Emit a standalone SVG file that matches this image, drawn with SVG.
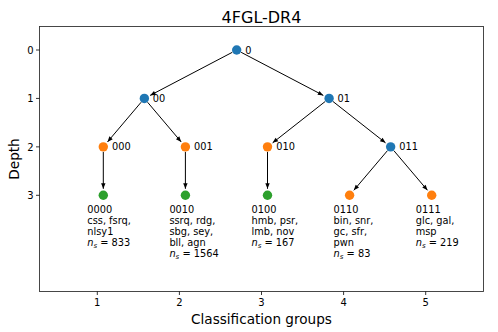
<svg xmlns="http://www.w3.org/2000/svg" width="498" height="332" viewBox="0 0 498 332">
<style>
text{font-family:"DejaVu Sans","Liberation Sans",sans-serif;fill:#000}
.tick{font-size:10px}
.lbl{font-size:9.8px}
.leaf{font-size:9.8px}
.ax{font-size:13.6px}
.ttl{font-size:16px}
.edge{stroke:#000;stroke-width:1;fill:none;marker-end:url(#ah)}
.b{fill:#1f77b4}.o{fill:#ff7f0e}.g{fill:#2ca02c}
.tk{stroke:#000;stroke-width:0.8}
</style>
<defs>
<marker id="ah" viewBox="-6 -3 6 6" refX="0" refY="0" markerWidth="6" markerHeight="6" markerUnits="userSpaceOnUse" orient="auto">
<path d="M0,0 L-5.5,-2.2 L-5.5,2.2 Z" fill="#000"/>
</marker>
</defs>
<rect width="498" height="332" fill="#fff"/>
<g id="axes">
<rect x="39.5" y="26.5" width="444" height="265" fill="none" stroke="#333" stroke-width="0.9"/>
<g class="tk">
<line x1="36" y1="50" x2="39.5" y2="50"/>
<line x1="36" y1="98.43" x2="39.5" y2="98.43"/>
<line x1="36" y1="146.87" x2="39.5" y2="146.87"/>
<line x1="36" y1="195.3" x2="39.5" y2="195.3"/>
<line x1="97.3" y1="291.5" x2="97.3" y2="295"/>
<line x1="179.4" y1="291.5" x2="179.4" y2="295"/>
<line x1="261.5" y1="291.5" x2="261.5" y2="295"/>
<line x1="343.6" y1="291.5" x2="343.6" y2="295"/>
<line x1="425.7" y1="291.5" x2="425.7" y2="295"/>
</g>
<g class="tick" text-anchor="end">
<text x="33.5" y="53.6">0</text>
<text x="33.5" y="102">1</text>
<text x="33.5" y="150.5">2</text>
<text x="33.5" y="198.9">3</text>
</g>
<g class="tick" text-anchor="middle">
<text x="97.3" y="306">1</text>
<text x="179.4" y="306">2</text>
<text x="261.5" y="306">3</text>
<text x="343.6" y="306">4</text>
<text x="425.7" y="306">5</text>
</g>
<text class="ax" x="261.5" y="324" text-anchor="middle">Classification groups</text>
<text class="ax" transform="translate(18.5,159) rotate(-90)" text-anchor="middle">Depth</text>
<text class="ttl" x="261.5" y="22.5" text-anchor="middle">4FGL-DR4</text>
</g>
<g id="connectors">
<line class="edge" x1="232.27" y1="52.32" x2="150.11" y2="95.41"/>
<line class="edge" x1="241.13" y1="52.32" x2="323.34" y2="95.41"/>
<line class="edge" x1="141.12" y1="102.24" x2="107.5" y2="141.91"/>
<line class="edge" x1="147.58" y1="102.24" x2="181.2" y2="141.91"/>
<line class="edge" x1="325.17" y1="101.52" x2="272.61" y2="142.85"/>
<line class="edge" x1="333.03" y1="101.52" x2="385.54" y2="142.85"/>
<line class="edge" x1="387.42" y1="150.68" x2="353.8" y2="190.34"/>
<line class="edge" x1="393.88" y1="150.68" x2="427.5" y2="190.34"/>
<line class="edge" x1="103.3" y1="151.87" x2="103.3" y2="188.8"/>
<line class="edge" x1="185.4" y1="151.87" x2="185.4" y2="188.8"/>
<line class="edge" x1="267.5" y1="151.87" x2="267.5" y2="188.8"/>
</g>
<g id="n0"><circle class="b" cx="236.7" cy="50" r="4.7"/><text class="lbl" x="245.2" y="53.5">0</text></g>
<g id="n00"><circle class="b" cx="144.35" cy="98.43" r="4.7"/><text class="lbl" x="152.8" y="101.9">00</text></g>
<g id="n01"><circle class="b" cx="329.1" cy="98.43" r="4.7"/><text class="lbl" x="337.6" y="101.9">01</text></g>
<g id="n000"><circle class="o" cx="103.3" cy="146.87" r="4.7"/><text class="lbl" x="112" y="150.4">000</text></g>
<g id="n001"><circle class="o" cx="185.4" cy="146.87" r="4.7"/><text class="lbl" x="194.1" y="150.4">001</text></g>
<g id="n010"><circle class="o" cx="267.5" cy="146.87" r="4.7"/><text class="lbl" x="276.2" y="150.4">010</text></g>
<g id="n011"><circle class="b" cx="390.65" cy="146.87" r="4.7"/><text class="lbl" x="399.3" y="150.4">011</text></g>
<g id="n0000"><circle class="g" cx="103.3" cy="195.3" r="4.7"/>
<text class="leaf" x="87.3" y="213"><tspan x="87.3">0000</tspan><tspan x="87.3" dy="11">css, fsrq,</tspan><tspan x="87.3" dy="11">nlsy1</tspan><tspan x="87.3" dy="11" font-style="italic">n</tspan><tspan font-style="italic" font-size="7" dy="1.8">s</tspan><tspan dy="-1.8"> = 833</tspan></text></g>
<g id="n0010"><circle class="g" cx="185.4" cy="195.3" r="4.7"/>
<text class="leaf" x="169.4" y="213"><tspan x="169.4">0010</tspan><tspan x="169.4" dy="11">ssrq, rdg,</tspan><tspan x="169.4" dy="11">sbg, sey,</tspan><tspan x="169.4" dy="11">bll, agn</tspan><tspan x="169.4" dy="11" font-style="italic">n</tspan><tspan font-style="italic" font-size="7" dy="1.8">s</tspan><tspan dy="-1.8"> = 1564</tspan></text></g>
<g id="n0100"><circle class="g" cx="267.5" cy="195.3" r="4.7"/>
<text class="leaf" x="251.5" y="213"><tspan x="251.5">0100</tspan><tspan x="251.5" dy="11">hmb, psr,</tspan><tspan x="251.5" dy="11">lmb, nov</tspan><tspan x="251.5" dy="11" font-style="italic">n</tspan><tspan font-style="italic" font-size="7" dy="1.8">s</tspan><tspan dy="-1.8"> = 167</tspan></text></g>
<g id="n0110"><circle class="o" cx="349.6" cy="195.3" r="4.7"/>
<text class="leaf" x="333.6" y="213"><tspan x="333.6">0110</tspan><tspan x="333.6" dy="11">bin, snr,</tspan><tspan x="333.6" dy="11">gc, sfr,</tspan><tspan x="333.6" dy="11">pwn</tspan><tspan x="333.6" dy="11" font-style="italic">n</tspan><tspan font-style="italic" font-size="7" dy="1.8">s</tspan><tspan dy="-1.8"> = 83</tspan></text></g>
<g id="n0111"><circle class="o" cx="431.7" cy="195.3" r="4.7"/>
<text class="leaf" x="415.7" y="213"><tspan x="415.7">0111</tspan><tspan x="415.7" dy="11">glc, gal,</tspan><tspan x="415.7" dy="11">msp</tspan><tspan x="415.7" dy="11" font-style="italic">n</tspan><tspan font-style="italic" font-size="7" dy="1.8">s</tspan><tspan dy="-1.8"> = 219</tspan></text></g>
</svg>
